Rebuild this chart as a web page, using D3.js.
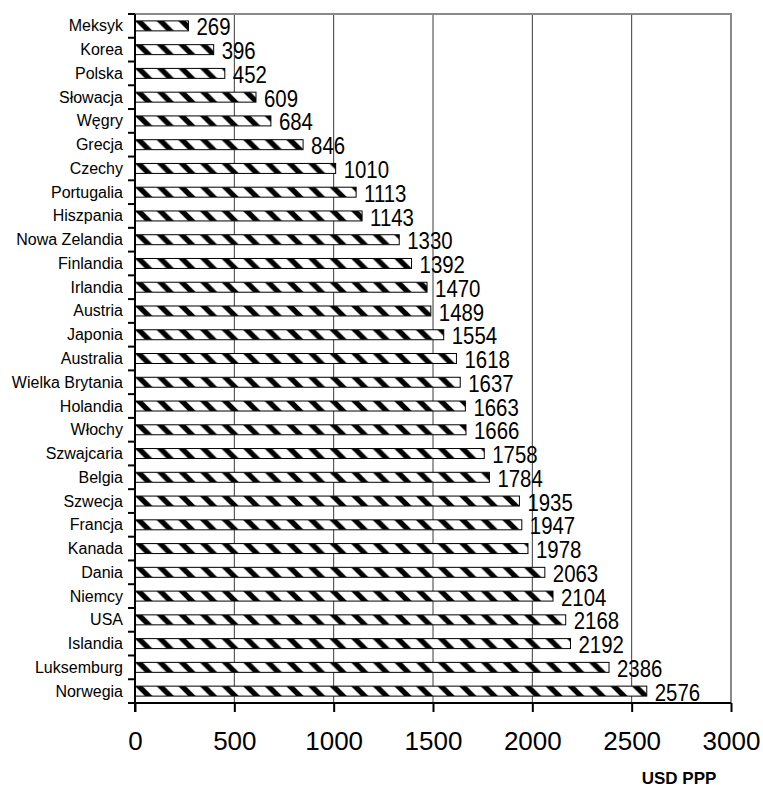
<!DOCTYPE html>
<html>
<head>
<meta charset="utf-8">
<script src="https://cdn.jsdelivr.net/npm/d3@7/dist/d3.min.js"></script>
<style>
  html, body { margin: 0; padding: 0; background: #fff; }
  svg { display: block; }
</style>
</head>
<body>
<svg id="chart" width="763" height="789"></svg>
<script>
// Wydatki na zdrowie per capita (USD PPP)
const countries = ["Meksyk", "Korea", "Polska", "Słowacja", "Węgry", "Grecja", "Czechy",
  "Portugalia", "Hiszpania", "Nowa Zelandia", "Finlandia", "Irlandia", "Austria", "Japonia",
  "Australia", "Wielka Brytania", "Holandia", "Włochy", "Szwajcaria", "Belgia", "Szwecja",
  "Francja", "Kanada", "Dania", "Niemcy", "USA", "Islandia", "Luksemburg", "Norwegia"];
const values = [269, 396, 452, 609, 684, 846, 1010, 1113, 1143, 1330, 1392, 1470, 1489, 1554,
  1618, 1637, 1663, 1666, 1758, 1784, 1935, 1947, 1978, 2063, 2104, 2168, 2192, 2386, 2576];
const xTicks = [0, 500, 1000, 1500, 2000, 2500, 3000];
const axisTitle = "USD PPP";

const svg = d3.select("#chart");
const plotLeft = 135, plotRight = 731, plotTop = 14, plotBottom = 703;

const x = d3.scaleLinear().domain([0, 3000]).range([plotLeft, plotRight]);
const y = d3.scaleBand().domain(countries).range([plotTop, plotBottom]).paddingInner(0.58).paddingOuter(0.29);

const barH = y.bandwidth();
const step = y.step();

// Diagonal hatch used as the bar fill
const defs = svg.append("defs");
const period = 21.6;
const pat = defs.append("pattern")
  .attr("id", "hatch")
  .attr("patternUnits", "userSpaceOnUse")
  .attr("x", plotLeft)
  .attr("y", y(countries[0]))
  .attr("width", period)
  .attr("height", step);
pat.append("rect").attr("width", period).attr("height", step).attr("fill", "#fff");
pat.append("polygon")
  .attr("points", `0,0 7.5,0 ${7.5 + barH},${barH} ${barH},${barH}`)
  .attr("fill", "#000");
pat.append("polygon")
  .attr("points", `${-period},0 ${-period + 7.5},0 ${-period + 7.5 + barH},${barH} ${-period + barH},${barH}`)
  .attr("fill", "#000");

// Vertical gridlines
svg.append("g")
  .selectAll("line")
  .data(xTicks.slice(1, -1))
  .join("line")
  .attr("x1", d => x(d)).attr("x2", d => x(d))
  .attr("y1", plotTop).attr("y2", plotBottom)
  .attr("stroke", "#3a3a3a")
  .attr("stroke-width", 1);

// Plot frame (top and right)
svg.append("path")
  .attr("d", `M${plotLeft},${plotTop}H${plotRight}V${plotBottom}`)
  .attr("fill", "none")
  .attr("stroke", "#8a8a8a")
  .attr("stroke-width", 2);

// Bars
svg.append("g")
  .selectAll("rect")
  .data(values)
  .join("rect")
  .attr("x", x(0))
  .attr("y", (d, i) => y(countries[i]))
  .attr("width", d => x(d) - x(0))
  .attr("height", barH)
  .attr("fill", "url(#hatch)")
  .attr("stroke", "#000")
  .attr("stroke-width", 1);

// Value labels (narrowed horizontally)
svg.append("g")
  .selectAll("text")
  .data(values)
  .join("text")
  .attr("transform", (d, i) => `translate(${x(d) + 8},${y(countries[i]) + barH / 2 + 1.5}) scale(0.85,1)`)
  .attr("dominant-baseline", "central")
  .attr("font-family", "'Liberation Sans', Arial, sans-serif")
  .attr("font-size", 24)
  .attr("fill", "#000")
  .text(d => d);

// Category axis
const yAxis = svg.append("g").attr("transform", `translate(${plotLeft},0)`);
yAxis.append("line")
  .attr("x1", 0).attr("x2", 0).attr("y1", plotTop).attr("y2", plotBottom + 9)
  .attr("stroke", "#000").attr("stroke-width", 2);
yAxis.selectAll("line.tick")
  .data(d3.range(countries.length + 1))
  .join("line")
  .attr("class", "tick")
  .attr("x1", -7).attr("x2", 0)
  .attr("y1", i => plotTop + i * step).attr("y2", i => plotTop + i * step)
  .attr("stroke", "#000").attr("stroke-width", 2);
yAxis.selectAll("text")
  .data(countries)
  .join("text")
  .attr("x", -12)
  .attr("y", d => y(d) + barH / 2)
  .attr("dominant-baseline", "central")
  .attr("text-anchor", "end")
  .attr("font-family", "'Liberation Sans', Arial, sans-serif")
  .attr("font-size", 16)
  .attr("fill", "#000")
  .text(d => d);

// Value axis
const xAxis = svg.append("g").attr("transform", `translate(0,${plotBottom})`)
  .call(d3.axisBottom(x).tickValues(xTicks).tickSize(9).tickPadding(20).tickFormat(d3.format("d")));
xAxis.select(".domain").attr("stroke", "#000").attr("stroke-width", 2)
  .attr("d", `M${plotLeft - 7},0H${plotRight}`);
xAxis.selectAll(".tick line").attr("stroke", "#000").attr("stroke-width", 2);
xAxis.selectAll(".tick text")
  .attr("font-family", "'Liberation Sans', Arial, sans-serif")
  .attr("font-size", 26)
  .attr("fill", "#000");

svg.append("text")
  .attr("x", 679)
  .attr("y", 784)
  .attr("text-anchor", "middle")
  .attr("font-family", "'Liberation Sans', Arial, sans-serif")
  .attr("font-weight", "bold")
  .attr("font-size", 17)
  .attr("fill", "#000")
  .text(axisTitle);
</script>
</body>
</html>
